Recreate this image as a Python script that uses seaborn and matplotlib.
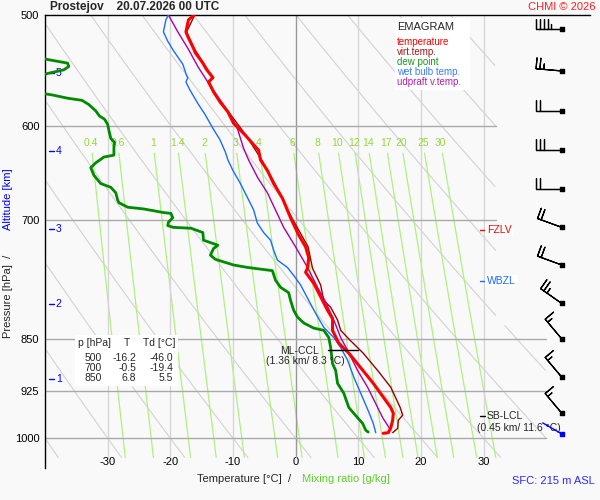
import numpy as np
import matplotlib
matplotlib.use("Agg")
import matplotlib.pyplot as plt
from matplotlib.patches import Rectangle
import seaborn as sns

sns.set_theme(style="white")
plt.rcParams['font.family'] = ['Liberation Sans', 'DejaVu Sans']

# --- sounding data ---
temp_p = [500, 504, 514, 518, 528, 532, 541, 545, 549, 554, 558, 567, 577, 586, 597, 609, 624, 634,
          645, 659, 675, 697, 717, 731, 744, 757, 762, 776, 798, 811, 822, 838, 856, 870, 891, 914,
          935, 951, 960, 971, 983, 991, 992]
temp_t = [-16.2, -17.1, -17.5, -17.2, -16.3, -16.0, -14.8, -14.4, -13.9, -13.2, -13.9, -13.1, -12.0,
          -10.8, -9.9, -8.0, -5.9, -5.6, -4.5, -3.5, -2.1, -0.8, 0.5, 1.6, 2.1, 1.9, 1.6, 2.9, 4.3,
          5.1, 5.9, 5.9, 6.9, 8.5, 10.4, 12.4, 14.0, 15.2, 15.6, 15.5, 15.2, 14.8, 14.0]

virt_p = [500, 514, 528, 541, 549, 554, 558, 567, 586, 609, 634, 659, 697, 731, 757, 778, 798, 807,
          824, 838, 850, 870, 895, 920, 951, 963, 971, 984, 991]
virt_t = [-16.1, -17.4, -16.2, -14.7, -13.8, -13.1, -13.8, -13.0, -10.7, -7.9, -5.4, -3.3, -0.6, 2.0,
          2.7, 4.0, 4.5, 5.6, 6.7, 7.2, 8.5, 10.8, 13.1, 15.2, 16.7, 17.1, 16.4, 16.3, 15.5]

dew_p = [500, 525, 535, 538, 541, 544, 547, 550, 556, 566, 570, 573, 575, 579, 585, 590, 593, 598,
         604, 612, 616, 621, 629, 631, 637, 642, 650, 659, 663, 669, 677, 680, 685, 687, 691, 692,
         697, 702, 706, 708, 709, 714, 723, 729, 733, 741, 746, 753, 756, 760, 772, 781, 788, 798,
         811, 820, 828, 835, 838, 848, 862, 885, 895, 914, 929, 951, 967, 976, 987, 990]
dew_t = [-46.0, -45.0, -42.0, -39.4, -36.4, -36.2, -37.0, -39.4, -43.0, -43.0, -38.8, -36.4, -34.1,
         -33.0, -31.9, -31.3, -30.5, -30.0, -29.8, -29.5, -28.9, -29.0, -29.0, -30.6, -31.9, -32.7,
         -32.2, -31.1, -29.5, -28.7, -28.4, -28.2, -26.8, -24.2, -21.1, -19.9, -19.6, -20.3, -20.4,
         -19.5, -16.7, -14.8, -14.7, -12.4, -13.1, -13.6, -12.8, -9.9, -7.7, -3.7, -3.2, -2.4, -1.1,
         -0.8, -0.3, 0.3, 1.3, 2.9, 4.5, 5.3, 5.6, 5.9, 6.4, 6.7, 7.7, 8.5, 9.9, 10.7, 11.2, 11.6]

wb_p = [500, 504, 514, 522, 530, 542, 552, 554, 558, 565, 578, 589, 602, 613, 626, 634, 645, 659,
        674, 688, 703, 714, 723, 735, 747, 756, 766, 778, 798, 815, 834, 848, 862, 880, 905, 929,
        956, 976, 991]
wb_t = [-20.3, -20.7, -21.1, -20.4, -19.5, -18.0, -17.4, -17.2, -17.5, -16.9, -15.6, -14.4, -13.2,
        -12.1, -11.2, -10.8, -10.0, -8.8, -7.7, -6.7, -6.1, -5.1, -4.0, -3.5, -2.9, -1.3, -0.3, 0.8,
        2.1, 3.2, 4.5, 6.1, 7.2, 8.3, 9.3, 10.4, 11.6, 12.4, 12.8]

upd_p = [500, 514, 528, 545, 559, 573, 589, 602, 622, 634, 652, 669, 708, 731, 756, 781, 800, 824,
         848, 866, 895, 920, 945, 967, 987]
upd_t = [-20.3, -18.8, -17.2, -15.5, -13.9, -12.3, -10.4, -9.3, -8.3, -7.5, -6.1, -4.5, -1.9, 0.0,
         1.9, 3.5, 4.8, 6.1, 7.2, 8.3, 9.9, 11.5, 12.8, 13.9, 15.2]

# wind profile
wind_p = [512, 548, 585, 624, 665, 708, 753, 802, 850, 905, 960]
wind_dir = [270, 275, 270, 270, 270, 290, 290, 305, 320, 320, 320]
wind_kt = [45, 25, 20, 30, 20, 20, 20, 25, 15, 15, 15]
sfc_p = 993
sfc_dir = 300

# altitude marks
alt_km = [1, 2, 3, 4, 5]
alt_p = [907, 803, 710, 625, 550]

# table
table_p = [500, 700, 850]
table_t = [-16.2, -0.5, 6.8]
table_td = [-46.0, -19.4, 5.5]

# levels
fzlv_p = 711
wbzl_p = 773
ccl_p, ccl_km, ccl_t = 866, 1.36, 8.3
lcl_p, lcl_km, lcl_t = 965, 0.45, 11.6

p_ticks = [500, 600, 700, 850, 925, 1000]
t_ticks = [-30, -20, -10, 0, 10, 20, 30]
mr_vals = [0.4, 0.6, 1, 1.4, 2, 3, 4, 6, 8, 10, 12, 14, 17, 20, 25, 30]
theta_vals = list(range(-40, 110, 10))

BG = '#f9f9f9'


def fx(x):
    return x / 600


def fy(y):
    return 1 - y / 500


def right_limit(p):
    return np.where(p < 830, 32.0, 40.0)


fig = plt.figure(figsize=(6, 5), dpi=100)
fig.patch.set_facecolor(BG)
ax = fig.add_axes([fx(45), fy(468), 545 / 600, 453 / 500])
ax.set_facecolor(BG)
ax.set_yscale('log')
ax.set_ylim(1050, 500)
ax.set_xlim(-40, 47.0)

# dry adiabats
pp = np.geomspace(500, 1032, 300)
lim = right_limit(pp)
for th in theta_vals:
    tt = (th + 273.15) * (pp / 1000.0) ** 0.286 - 273.15
    tt = np.where(tt > lim, np.nan, tt)
    ax.plot(tt, pp, color='#d2d2d2', lw=0.8, zorder=1)

# mixing ratio lines
pm = np.geomspace(627, 1032, 100)
for w in mr_vals:
    e = w * pm / (622.0 + w)
    a = np.log(e / 6.112)
    td = 243.5 * a / (17.67 - a)
    ax.plot(td, pm, color='#adf27f', lw=0.9, zorder=1)
    e0 = w * 617 / (622.0 + w)
    a0 = np.log(e0 / 6.112)
    ax.text(243.5 * a0 / (17.67 - a0), 617, f'{w:g}', color='#94d83a', fontsize=7.5,
            ha='center', va='center', zorder=2)

# grid
for t in t_ticks:
    ax.plot([t, t], [500, 1032], color='#999999' if t == 0 else '#d6d6d6', lw=1, zorder=1)
for p in p_ticks[1:]:
    ax.plot([-40, float(right_limit(np.array(p)))], [p, p], color='#aaaaaa', lw=1, zorder=1)

# profiles
sns.lineplot(x=virt_t, y=virt_p, sort=False, estimator=None, color='#990000', lw=1, ax=ax, zorder=3)
sns.lineplot(x=upd_t, y=upd_p, sort=False, estimator=None, color='#aa00aa', lw=1, ax=ax, zorder=3)
sns.lineplot(x=wb_t, y=wb_p, sort=False, estimator=None, color='#1a6cff', lw=1, ax=ax, zorder=3)
sns.lineplot(x=dew_t, y=dew_p, sort=False, estimator=None, color='#008a00', lw=2.0, ax=ax, zorder=4)
sns.lineplot(x=temp_t, y=temp_p, sort=False, estimator=None, color='#ff0000', lw=2.2, ax=ax, zorder=5)

# altitude marks
for km, p in zip(alt_km, alt_p):
    ax.plot([-39.4, -38.6], [p, p], color='blue', lw=1, zorder=2)
    ax.text(-37.8, p, str(km), color='blue', fontsize=7.5, ha='center', va='center', zorder=2)

# CCL / LCL / freezing levels
ax.plot([5.1, 9.9], [ccl_p, ccl_p], color='black', lw=1, zorder=6)
ax.annotate('ML-CCL', xy=(5.1, ccl_p), xytext=(-28, -1), textcoords='offset pixels',
            ha='center', va='center', fontsize=7.5, zorder=6)
ax.annotate(f'({ccl_km} km/ {ccl_t} °C)', xy=(5.1, ccl_p), xytext=(-22, -11),
            textcoords='offset pixels', ha='center', va='center', fontsize=7.5, zorder=6)
ax.plot([29.4, 30.2], [lcl_p, lcl_p], color='black', lw=1, zorder=6)
ax.annotate('SB-LCL', xy=(30.2, lcl_p), xytext=(2, 0), textcoords='offset pixels',
            ha='left', va='center', fontsize=7.5, zorder=6)
ax.annotate(f'({lcl_km} km/ {lcl_t} °C)', xy=(30.2, lcl_p), xytext=(34, -12),
            textcoords='offset pixels', ha='center', va='center', fontsize=7.5, zorder=6)
for lev, name, col in [(fzlv_p, 'FZLV', '#ff0000'), (wbzl_p, 'WBZL', '#1a6cff')]:
    ax.plot([29.4, 30.2], [lev, lev], color=col, lw=1, zorder=6)
    ax.annotate(name, xy=(30.2, lev), xytext=(2, 0), textcoords='offset pixels', ha='left',
                va='center', fontsize=7.5, color=col, zorder=6,
                bbox=dict(facecolor='white', edgecolor='none', pad=1.0))

# wind barbs
wx = 42.5
d = np.deg2rad(wind_dir)
u = -np.array(wind_kt) * np.sin(d)
v = -np.array(wind_kt) * np.cos(d)
ax.barbs([wx] * len(wind_p), wind_p, u, v, length=6.1, lw=0.9, color='black', zorder=6,
         sizes=dict(spacing=0.15, height=0.42, width=0.0))
ax.scatter([wx] * len(wind_p), wind_p, marker='s', s=6, color='black', zorder=7)
ds = np.deg2rad(sfc_dir)
ax.annotate('', xy=(wx, sfc_p), xytext=(22 * np.sin(ds), 22 * np.cos(ds)),
            textcoords='offset pixels', arrowprops=dict(arrowstyle='-', color='blue', lw=1,
                                                        shrinkA=0, shrinkB=0), zorder=7)
ax.scatter([wx], [sfc_p], marker='s', s=6, color='blue', zorder=7)

# axes
ax.set_yticks(p_ticks)
ax.set_yticklabels([str(p) for p in p_ticks])
ax.yaxis.set_minor_locator(matplotlib.ticker.NullLocator())
ax.set_xticks(t_ticks)
ax.set_xticklabels([str(t) for t in t_ticks])
ax.tick_params(axis='both', length=0, labelsize=8, colors='black')
ax.tick_params(axis='x', pad=-8)
ax.tick_params(axis='y', pad=4)
for side in ['right', 'bottom']:
    ax.spines[side].set_visible(False)
for side in ['top', 'left']:
    ax.spines[side].set_color('black')
    ax.spines[side].set_linewidth(1)
ax.grid(False)

# legend box
fig.patches.append(Rectangle((fx(395), fy(90)), 75 / 600, 72 / 500, transform=fig.transFigure,
                             facecolor='white', edgecolor='none', zorder=2))
fig.text(fx(397), fy(27), 'EMAGRAM', fontsize=8, ha='left', va='center', zorder=3)
legend_items = [('temperature', '#ff0000'), ('virt.temp.', '#a01818'), ('dew point', '#1a9a1a'),
                ('wet bulb temp.', '#3a7cff'), ('udpraft v.temp.', '#b020b0')]
for i, (lab, col) in enumerate(legend_items):
    fig.text(fx(397), fy(42 + 10 * i), lab, fontsize=7, color=col, ha='left', va='center', zorder=3)

# table
fig.patches.append(Rectangle((fx(75), fy(386)), 103 / 600, 51 / 500, transform=fig.transFigure,
                             facecolor='white', edgecolor='none', zorder=2))
fig.text(fx(78), fy(343), 'p [hPa]', fontsize=7.5, ha='left', va='center', zorder=3)
fig.text(fx(127), fy(343), 'T', fontsize=7.5, ha='center', va='center', zorder=3)
fig.text(fx(143), fy(343), 'Td [°C]', fontsize=7.5, ha='left', va='center', zorder=3)
for i, (p, t, td) in enumerate(zip(table_p, table_t, table_td)):
    yy = fy(358 + 10 * i)
    fig.text(fx(102), yy, str(p), fontsize=7.5, ha='right', va='center', zorder=3)
    fig.text(fx(136), yy, f'{t:.1f}', fontsize=7.5, ha='right', va='center', zorder=3)
    fig.text(fx(173), yy, f'{td:.1f}', fontsize=7.5, ha='right', va='center', zorder=3)

# titles and labels
fig.text(fx(50), fy(7), 'Prostejov    20.07.2026 00 UTC', fontsize=8.5, fontweight='bold',
         ha='left', va='center')
fig.text(fx(595), fy(7), 'CHMI © 2026', fontsize=8, color='#ff2020', ha='right', va='center')
fig.text(fx(197), fy(479), 'Temperature [°C]  /', fontsize=8, ha='left', va='center')
fig.text(fx(302), fy(479), 'Mixing ratio [g/kg]', fontsize=8, color='#5fce2e', ha='left', va='center')
fig.text(fx(512), fy(481), 'SFC: 215 m ASL', fontsize=8, color='#2a2aff', ha='left', va='center')
fig.text(fx(8), fy(338), 'Pressure [hPa]  /', fontsize=8, rotation=90, ha='center', va='bottom')
fig.text(fx(8), fy(230), 'Altitude [km]', fontsize=8, rotation=90, color='blue', ha='center',
         va='bottom')

fig.savefig('out.png', dpi=100, facecolor=BG)
